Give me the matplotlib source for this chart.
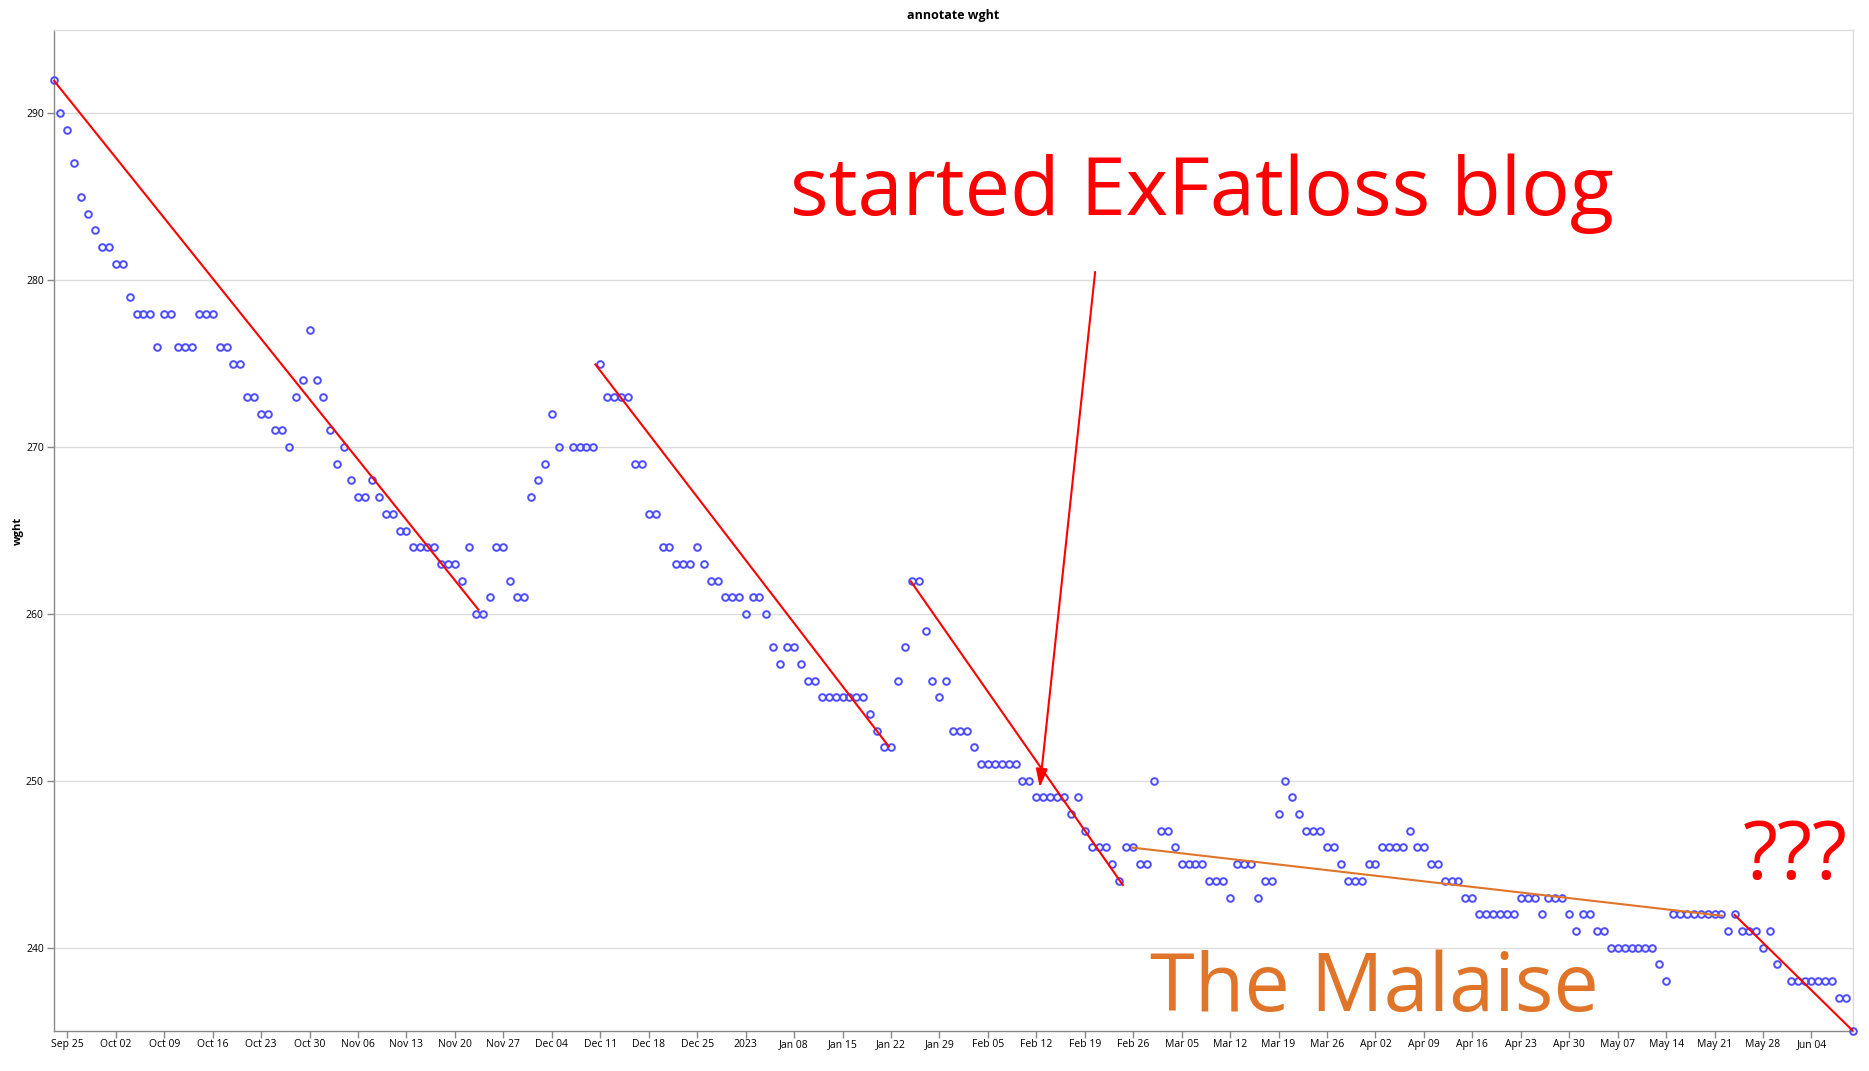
import matplotlib
matplotlib.use('Agg')
import matplotlib.pyplot as plt
import matplotlib.dates as mdates
import matplotlib.ticker as mticker
import pandas as pd

# ---------------- data ----------------
start_date = '2022-09-23'
end_date = '2023-06-10'
missing_dates = ['2022-12-06', '2023-05-31']

wght = [
    # Sep 23 - Oct 20
    292, 290, 289, 287, 285, 284, 283, 282, 282, 281, 281, 279, 278, 278, 278, 276, 278, 278, 276, 276,
    276, 278, 278, 278, 276, 276, 275, 275,
    # Oct 21 - Dec 05
    273, 273, 272, 272, 271, 271, 270, 273, 274, 277, 274, 273, 271, 269, 270, 268, 267, 267, 268, 267,
    266, 266, 265, 265, 264, 264, 264, 264, 263, 263, 263, 262, 264, 260, 260, 261, 264, 264, 262, 261,
    261, 267, 268, 269, 272, 270,
    # Dec 07 - Jan 22
    270, 270, 270, 270, 275, 273, 273, 273, 273, 269, 269, 266, 266, 264, 264, 263, 263, 263, 264, 263,
    262, 262, 261, 261, 261, 260, 261, 261, 260, 258, 257, 258, 258, 257, 256, 256, 255, 255, 255, 255,
    255, 255, 255, 254, 253, 252, 252,
    # Jan 23 - May 30
    256, 258, 262, 262, 259, 256, 255, 256, 253, 253, 253, 252, 251, 251, 251, 251, 251, 251, 250, 250,
    249, 249, 249, 249, 249, 248, 249, 247, 246, 246, 246, 245, 244, 246, 246, 245, 245, 250, 247, 247,
    246, 245, 245, 245, 245, 244, 244, 244, 243, 245, 245, 245, 243, 244, 244, 248, 250, 249, 248, 247,
    247, 247, 246, 246, 245, 244, 244, 244, 245, 245, 246, 246, 246, 246, 247, 246, 246, 245, 245, 244,
    244, 244, 243, 243, 242, 242, 242, 242, 242, 242, 243, 243, 243, 242, 243, 243, 243, 242, 241, 242,
    242, 241, 241, 240, 240, 240, 240, 240, 240, 240, 239, 238, 242, 242, 242, 242, 242, 242, 242, 242,
    241, 242, 241, 241, 241, 240, 241, 239,
    # Jun 01 - Jun 10
    238, 238, 238, 238, 238, 238, 238, 237, 237, 235,
]

# annotation trend lines: (start date, start value, end date, end value)
red_lines = [
    ('2022-09-23 00:00', 292.0, '2022-11-23 12:00', 260.2),
    ('2022-12-10 05:00', 275.0, '2023-01-21 19:00', 252.0),
    ('2023-01-24 19:00', 262.0, '2023-02-24 14:00', 243.7),
    ('2023-05-23 19:00', 242.0, '2023-06-10 00:00', 235.0),
]
orange_line = ('2023-02-25 17:00', 246.0, '2023-05-22 05:00', 241.9)
arrow_tail = ('2023-02-20 12:00', 280.5)
arrow_tip = ('2023-02-12 12:00', 249.6)

y_ticks = [240, 250, 260, 270, 280, 290]
y_min, y_max = 235, 295

# ---------------- plot ----------------
W, H = 1869, 1071
fig = plt.figure(figsize=(W / 100, H / 100), dpi=100)
L, R, T, B = 53.5, 1853, 30, 1031
ax = fig.add_axes([L / W, 1 - B / H, (R - L) / W, (B - T) / H])

dates = pd.date_range(start_date, end_date, freq='D').drop(pd.to_datetime(missing_dates))

FONT = 'Open Sans'
plt.rcParams['font.family'] = [FONT, 'DejaVu Sans']

ax.plot(dates, wght, linestyle='none', marker='o', markersize=4.8,
        markerfacecolor='none', markeredgecolor=(0.3, 0.3, 1.0), markeredgewidth=1.4,
        clip_on=False, zorder=3)

for (d0, v0, d1, v1) in red_lines:
    ax.plot(pd.to_datetime([d0, d1]), [v0, v1], color='#ff0000', lw=1.5, zorder=4,
            solid_capstyle='butt', clip_on=False)
d0, v0, d1, v1 = orange_line
ax.plot(pd.to_datetime([d0, d1]), [v0, v1], color='#e0752a', lw=1.5, zorder=4,
        solid_capstyle='butt')

ax.annotate('', xy=(pd.Timestamp(arrow_tip[0]), arrow_tip[1]),
            xytext=(pd.Timestamp(arrow_tail[0]), arrow_tail[1]),
            arrowprops=dict(arrowstyle='-|>,head_length=1.1,head_width=0.35', color='#ff0000',
                            lw=1.5, shrinkA=0, shrinkB=0), zorder=5)

ax.set_xlim(pd.Timestamp(start_date), pd.Timestamp(end_date))
ax.set_ylim(y_min, y_max)
ax.set_yticks(y_ticks)
ax.yaxis.grid(True, color='#dddddd', lw=1)
ax.xaxis.grid(False)
ax.set_axisbelow(True)

ax.xaxis.set_major_locator(mdates.WeekdayLocator(byweekday=mdates.SU, interval=1))


def fmt_date(x, pos=None):
    d = mdates.num2date(x)
    if d.month == 1 and d.day == 1:
        return d.strftime('%Y')
    return d.strftime('%b %d')


ax.xaxis.set_major_formatter(mticker.FuncFormatter(fmt_date))

for s in ['left', 'bottom']:
    ax.spines[s].set_color('#888888')
    ax.spines[s].set_linewidth(1)
for s in ['top', 'right']:
    ax.spines[s].set_color('#dddddd')
    ax.spines[s].set_linewidth(1)

ax.tick_params(axis='both', colors='#888888', length=5, width=1, labelsize=7.5,
               labelcolor='#000000')
ax.tick_params(axis='x', pad=1)
ax.tick_params(axis='y', pad=2)
for lab in ax.get_xticklabels() + ax.get_yticklabels():
    lab.set_fontfamily(FONT)

fig.text(953 / W, 1 - 16 / H, 'annotate wght', ha='center', va='center',
         fontsize=9, fontweight='bold', family=FONT)
fig.text(18 / W, 1 - 531 / H, 'wght', ha='center', va='center', rotation=90,
         fontsize=8, fontweight='bold', family=FONT)

fig.text(790 / W, 1 - 215 / H, 'started ExFatloss blog', ha='left', va='baseline',
         fontsize=58.3, color='#ff0000', family=FONT)
fig.text(1150 / W, 1 - 1011 / H, 'The Malaise', ha='left', va='baseline',
         fontsize=58.3, color='#e0752a', family=FONT)
fig.text(1743 / W, 1 - 879 / H, '???', ha='left', va='baseline',
         fontsize=58.3, color='#ff0000', family=FONT)

fig.savefig('out.png', dpi=100, facecolor='white')
